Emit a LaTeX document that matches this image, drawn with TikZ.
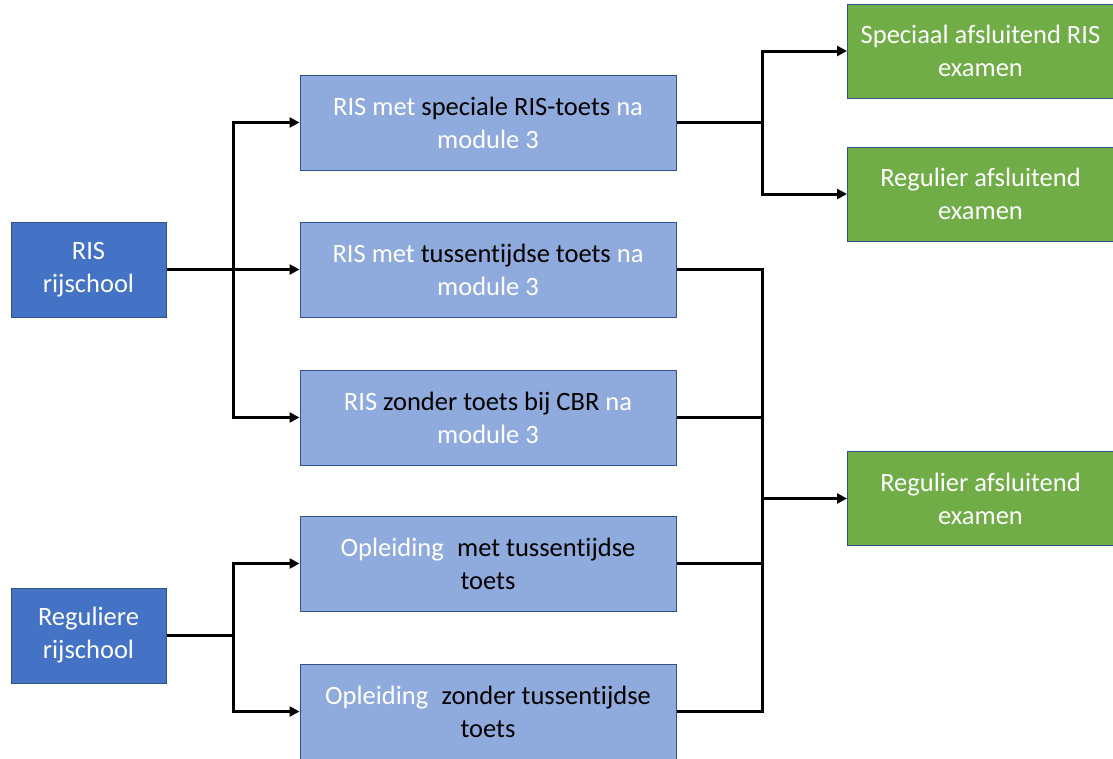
\documentclass[tikz,border=0pt]{standalone}
\usepackage{fontspec}
\setmainfont[Ligatures={NoCommon,NoRare}]{Carlito}
\usetikzlibrary{arrows.meta,calc}
\definecolor{dblue}{HTML}{4472C4}
\definecolor{lblue}{HTML}{8FAADC}
\definecolor{gfill}{HTML}{70AD47}
\definecolor{bord}{HTML}{2F528F}
\tikzset{
  box/.style={draw=bord, line width=1pt, minimum width=#1, align=center, inner sep=0pt,
    font=\fontsize{26.5}{33}\selectfont},
  src/.style={box=155pt, minimum height=95pt, fill=dblue, text=white},
  mid/.style={box=376pt, minimum height=95pt, fill=lblue, text=black},
  fin/.style={box=266pt, minimum height=94pt, fill=gfill, text=white},
  conn/.style={line width=3pt, line join=miter},
  arr/.style={conn, -{Triangle[length=10pt,width=10pt]}},
}
\newcommand{\w}[1]{\textcolor{white}{#1}}
\begin{document}
\begin{tikzpicture}[x=1pt,y=-1pt]
\useasboundingbox (0,0) rectangle (1113,758);
\begin{scope}
\clip (0,0) rectangle (1113,758);
\node[src] (ris) at (88.5,269.5) {RIS\\rijschool};
\node[src] (reg) at (88.5,635.5) {Reguliere\\rijschool};
\node[mid] (b1) at (488,122.5) {\w{RIS met} speciale RIS-toets \w{na}\\\w{module 3}};
\node[mid] (b2) at (488,269.5) {\w{RIS met} tussentijdse toets \w{na}\\\w{module 3}};
\node[mid] (b3) at (488,417.5) {\w{RIS} zonder toets bij CBR \w{na}\\\w{module 3}};
\node[mid] (b4) at (488,563.5) {\w{Opleiding}\enspace met tussentijdse\\toets};
\node[mid] (b5) at (488,711.5) {\w{Opleiding}\enspace zonder tussentijdse\\toets};
\node[fin] (g1) at (980.5,51) {Speciaal afsluitend RIS\\examen};
\node[fin] (g2) at (980.5,194) {Regulier afsluitend\\examen};
\node[fin] (g3) at (980.5,498.5) {Regulier afsluitend\\examen};
\end{scope}
\coordinate (busL) at (233,0);
\coordinate (busR) at (762,0);
% RIS branch
\draw[arr] (ris.east) -| (b1.west -| busL) -- (b1.west);
\draw[arr] (ris.east) -- (b2.west);
\draw[arr] (ris.east) -| (b3.west -| busL) -- (b3.west);
% Reguliere branch
\draw[arr] (reg.east) -| (b4.west -| busL) -- (b4.west);
\draw[arr] (reg.east) -| (b5.west -| busL) -- (b5.west);
% top right
\draw[arr] (b1.east) -| (g1.west -| busR) -- (g1.west);
\draw[arr] (b1.east) -| (g2.west -| busR) -- (g2.west);
% bottom right
\draw[conn] (b2.east) -| (g3.west -| busR);
\draw[conn] (b3.east) -| (g3.west -| busR);
\draw[conn] (b4.east) -| (g3.west -| busR);
\draw[conn] (b5.east) -| (g3.west -| busR);
\draw[arr] (g3.west -| busR) -- (g3.west);
\end{tikzpicture}
\end{document}
